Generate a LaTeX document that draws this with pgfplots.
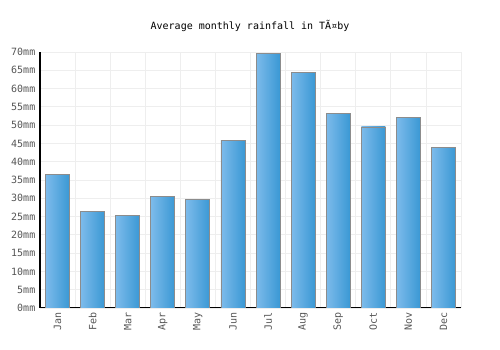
\documentclass[border=0pt]{standalone}
\usepackage{pgfplots}
\pgfplotsset{compat=1.18}
\usepackage{fontspec}
\setmainfont{DejaVu Sans Mono}
\definecolor{barL}{HTML}{7DBBEB}
\definecolor{barR}{HTML}{3A98D4}
\definecolor{gridc}{HTML}{EEEEEE}
\definecolor{tickc}{HTML}{555555}
\pgfplotsset{mybar/.style={draw=gray!90, line width=0.6pt, left color=barL, right color=barR, bar shift=0pt}}
\begin{document}
\begin{tikzpicture}
\path[use as bounding box] (0pt,0pt) rectangle (375pt,262.5pt);
\node[font=\fontsize{7.5}{9}\selectfont, anchor=center] at (187.5pt,243pt) {Average monthly rainfall in TÃ¤by};
\begin{axis}[
  at={(30pt,31.5pt)}, anchor=south west,
  scale only axis, width=315.75pt, height=192pt,
  xmin=-0.5, xmax=11.5, ymin=0, ymax=70,
  xtick={0,...,11},
  xticklabels={Jan,Feb,Mar,Apr,May,Jun,Jul,Aug,Sep,Oct,Nov,Dec},
  minor xtick={-0.5,0.5,...,11.5},
  ytick={0,5,...,70},
  yticklabel={\pgfmathprintnumber{\tick}mm},
  /pgf/number format/assume math mode=true,
  ticklabel style={font=\fontsize{7.5}{9}\selectfont, text=tickc},
  x tick label style={rotate=90, anchor=east},
  xmajorgrids=false, xminorgrids=true, ymajorgrids=true,
  grid style={gridc, line width=0.6pt},
  minor grid style={gridc, line width=0.6pt},
  major tick length=0pt, minor tick length=0pt,
  axis x line*=bottom, axis y line*=left,
  axis line style={black, line width=0.75pt, -},
  ybar, bar width=18pt,
]
\addplot[mybar] coordinates {(0,36.4)};
\addplot[mybar] coordinates {(1,26.5)};
\addplot[mybar] coordinates {(2,25.2)};
\addplot[mybar] coordinates {(3,30.4)};
\addplot[mybar] coordinates {(4,29.8)};
\addplot[mybar] coordinates {(5,45.7)};
\addplot[mybar] coordinates {(6,69.5)};
\addplot[mybar] coordinates {(7,64.3)};
\addplot[mybar] coordinates {(8,53.3)};
\addplot[mybar] coordinates {(9,49.5)};
\addplot[mybar] coordinates {(10,52.2)};
\addplot[mybar] coordinates {(11,43.8)};
\end{axis}
\end{tikzpicture}
\end{document}
